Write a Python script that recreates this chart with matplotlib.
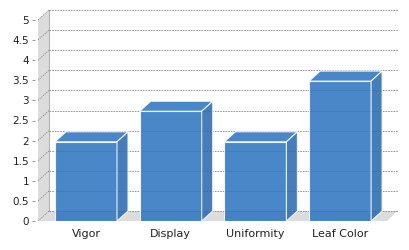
import matplotlib
matplotlib.use('Agg')
import matplotlib.pyplot as plt
from matplotlib.patches import Polygon

categories = ['Vigor', 'Display', 'Uniformity', 'Leaf Color']
scores = [1.97, 2.73, 1.97, 3.48]
y_ticks = [0, 0.5, 1, 1.5, 2, 2.5, 3, 3.5, 4, 4.5, 5]
y_labels = ['0', '0.5', '1', '1.5', '2', '2.5', '3', '3.5', '4', '4.5', '5']

W, H = 410, 250
fig = plt.figure(figsize=(W / 100, H / 100), dpi=100)

# axes box in pixels: left 38 (front of wall), right 398 (back edge), bottom 221 (value 0)
left_px, right_px, bottom_px, top_px = 38, 398, 221, 6
ax = fig.add_axes([left_px / W, (H - bottom_px) / H,
                   (right_px - left_px) / W, (bottom_px - top_px) / H])
ax.set_facecolor('none')

px_per_x = 84.7   # pixels per category
px_per_y = 40.2   # pixels per unit score
x_min = -(86 - left_px) / px_per_x
x_max = x_min + (right_px - left_px) / px_per_x
y_max = (bottom_px - top_px) / px_per_y
ax.set_xlim(x_min, x_max)
ax.set_ylim(0, y_max)

# depth of the fake 3d effect, in data units
dx = 11 / px_per_x
dy = 10 / px_per_y
bar_w = 62 / px_per_x

wall_col = '#dcdcdc'
grid_col = '#888888'

# left wall and floor
ax.add_patch(Polygon([(x_min, 0), (x_min, 5), (x_min + dx, 5 + dy), (x_min + dx, dy)],
                     closed=True, facecolor=wall_col, edgecolor='none', zorder=0))
ax.add_patch(Polygon([(x_min, 0), (x_max - dx, 0), (x_max, dy), (x_min + dx, dy)],
                     closed=True, facecolor=wall_col, edgecolor='none', zorder=0))
ax.plot([x_min + dx, x_min + dx], [dy, 5 + dy], color='#b4b4b4', lw=0.8, zorder=1)

# grid lines on the back wall and diagonals on the side wall
for v in y_ticks:
    ax.plot([x_min + dx, x_max], [v + dy, v + dy], color=grid_col, lw=0.6,
            dashes=(2, 1.2), zorder=1)
    ax.plot([x_min, x_min + dx], [v, v + dy], color=grid_col, lw=0.6,
            dashes=(1.5, 1.2), zorder=1)

# bars
bar_col = '#2a72bf'
alpha = 0.85
edge = (1, 1, 1, 0.35)
x = list(range(len(categories)))
ax.bar(x, scores, width=bar_w, color=bar_col, alpha=alpha, edgecolor=edge,
       linewidth=0.8, zorder=3)
for i, v in zip(x, scores):
    x0, x1 = i - bar_w / 2, i + bar_w / 2
    ax.add_patch(Polygon([(x0, v), (x1, v), (x1 + dx, v + dy), (x0 + dx, v + dy)],
                         closed=True, facecolor=bar_col, alpha=alpha, edgecolor=edge,
                         lw=0.8, zorder=3))
    ax.add_patch(Polygon([(x1, 0), (x1 + dx, dy), (x1 + dx, v + dy), (x1, v)],
                         closed=True, facecolor='#2468b0', alpha=alpha, edgecolor=edge,
                         lw=0.8, zorder=3))

for s in ax.spines.values():
    s.set_visible(False)
ax.spines['left'].set_position(('outward', 2))

ax.set_yticks(y_ticks)
ax.set_yticklabels(y_labels)
ax.set_xticks(x)
ax.set_xticklabels(categories)
ax.tick_params(axis='y', length=2.5, width=0.6, color='#888888', pad=2,
               labelsize=7.5, labelcolor='#222222')
ax.tick_params(axis='x', length=0, pad=6, labelsize=8, labelcolor='#222222')

fig.savefig('out.png', dpi=100)
